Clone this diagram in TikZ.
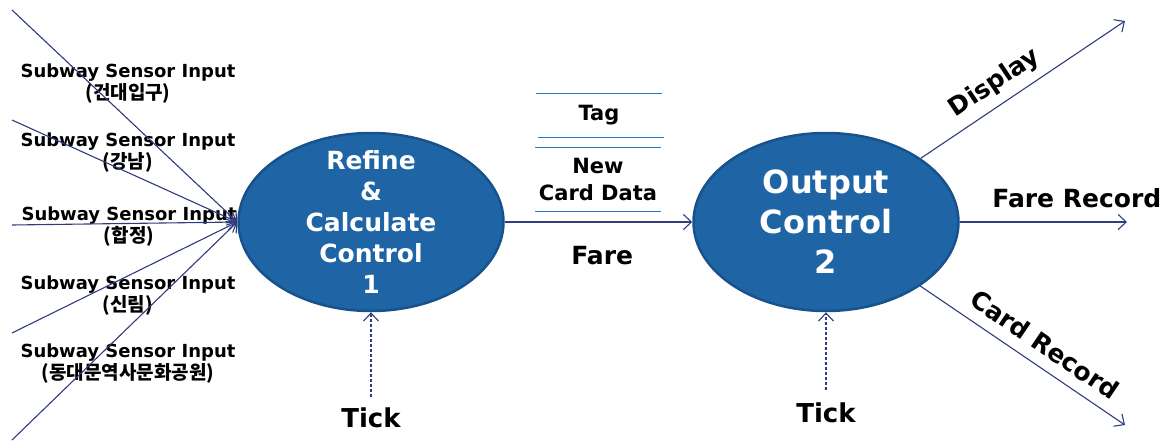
\documentclass[tikz,border=0pt]{standalone}
\usepackage{fontspec}
\setmainfont{DejaVu Sans}
\newfontfamily\krfont{Noto Sans CJK KR}
\usetikzlibrary{arrows.meta,shapes.geometric}
\definecolor{bubble}{RGB}{31,101,166}
\definecolor{bubbleedge}{RGB}{24,82,140}
\definecolor{flowline}{RGB}{48,60,125}
\definecolor{storeline}{RGB}{40,118,198}

\begin{document}
\begin{tikzpicture}[x=1pt,y=-1pt]
    \tikzstyle{process} = [ellipse, draw=bubbleedge, line width=2.5pt, fill=bubble,
        minimum width=265pt, minimum height=178pt, inner sep=0pt, text=white, align=center]
    \tikzstyle{flow} = [draw=flowline, line width=1.1pt, -{Straight Barb[length=8pt,width=15pt]}]
    \tikzstyle{tickflow} = [flow, densely dashed]
    \tikzstyle{sensor} = [align=center, font=\fontsize{18}{22}\selectfont\bfseries]
    \tikzstyle{label} = [font=\fontsize{25}{30}\selectfont\bfseries]
    \tikzstyle{tickname} = [font=\fontsize{26}{30}\selectfont\bfseries]
    \tikzstyle{storebox} = [minimum width=125pt, inner sep=0pt, align=center,
        font=\fontsize{21}{27}\selectfont\bfseries]
    \tikzstyle{storeedge} = [draw=storeline, line width=1.3pt]

    \useasboundingbox (0,0) rectangle (1170,445);

    % processes
    \node[process, inner ysep=-9pt, font=\fontsize{25}{31}\selectfont\bfseries] (refine) at (371,222)
        {Refine\\\&\\Calculate\\Control\\1};
    \node[process, font=\fontsize{32}{40}\selectfont\bfseries] (output) at (826,222)
        {Output\\Control\\2};

    % sensor inputs
    \node[sensor] (kondae) at (128,84) {Subway Sensor Input\\{\krfont\bfseries\fontsize{19}{22}\selectfont (건대입구)}};
    \node[sensor] (gangnam) at (128,153) {Subway Sensor Input\\{\krfont\bfseries\fontsize{19}{22}\selectfont (강남)}};
    \node[sensor] (hapjeong) at (129,227) {Subway Sensor Input\\{\krfont\bfseries\fontsize{19}{22}\selectfont (합정)}};
    \node[sensor] (sillim) at (128,296) {Subway Sensor Input\\{\krfont\bfseries\fontsize{19}{22}\selectfont (신림)}};
    \node[sensor] (dongdaemun) at (128,364) {Subway Sensor Input\\{\krfont\bfseries\fontsize{19}{22}\selectfont (동대문역사문화공원)}};

    \foreach \y [count=\i] in {10,120,225,333,440} {
        \coordinate (in\i) at (12,\y);
        \draw[flow] (in\i) -- (refine.west);
    }

    % data store
    \node[storebox, minimum height=43pt] (tag) at (599,115.5) {Tag};
    \node[storebox, minimum height=63pt] (card) at (598,179.5) {New\\Card Data};
    \draw[storeedge] (tag.north west) -- (tag.north east);
    \draw[storeedge] ([xshift=2pt]tag.south west) -- ([xshift=2pt]tag.south east);
    \draw[storeedge] (card.north west) -- (card.north east);
    \draw[storeedge] (card.south west) -- (card.south east);

    \draw[flow] (refine.east) -- (output.west)
        node[label, pos=0.52, below=20pt] (fare) {Fare};

    % clock
    \node[tickname] (tick1) at (371,418) {Tick};
    \node[tickname] (tick2) at (826,413) {Tick};
    \draw[tickflow, shorten <=7pt] (tick1.north) -- (refine.south);
    \draw[tickflow, shorten <=9pt] (tick2.north) -- (output.south);

    % outputs
    \coordinate (display) at (1125,21);
    \coordinate (farerec) at (1127,222);
    \coordinate (cardrec) at (1125,425);
    \draw[flow] (output) -- (display)
        node[label, sloped, pos=0.42, above=5pt] (displaytext) {Display};
    \draw[flow] (output.east) -- (farerec)
        node[label, pos=0.70, above=10pt] (faretext) {Fare Record};
    \draw[flow] (output) -- (cardrec)
        node[label, sloped, pos=0.55, above=8pt] (cardtext) {Card Record};
\end{tikzpicture}
\end{document}
